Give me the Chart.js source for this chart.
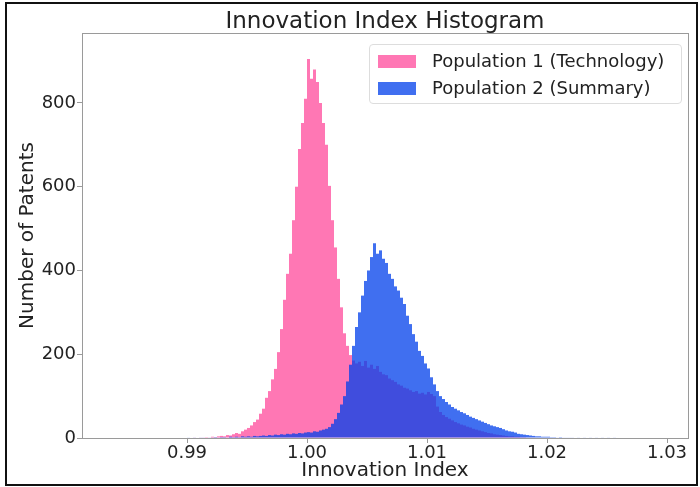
<!DOCTYPE html>
<html>
<head>
<meta charset="utf-8">
<script src="https://cdn.jsdelivr.net/npm/chart.js@4.4.1/dist/chart.umd.min.js"></script>
<style>
  body { margin: 0; background: #fff; font-family: "DejaVu Sans", sans-serif; }
  #wrap { position: relative; width: 700px; height: 487px; }
  #frame { position: absolute; left: 5px; top: 2px; width: 689px; height: 480px; border: 2px solid #111; pointer-events: none; }
  #legend { position: absolute; left: 369px; top: 44px; width: 311px; height: 58px; border: 1px solid #ddd; border-radius: 4px; background: rgba(255,255,255,0.85); }
  .row { position: absolute; left: 8px; height: 22px; white-space: nowrap; }
  .sw { position: absolute; left: 0; top: 4px; width: 38px; height: 13px; }
  .lbl { position: absolute; left: 54px; top: -1px; font-size: 18px; color: #222; line-height: 22px; }
</style>
</head>
<body>
<div id="wrap">
  <canvas id="histChart" width="700" height="487"></canvas>
  <div id="legend"></div>
  <div id="frame"></div>
</div>
<script>
// histogram bins: left edge of first bin and bin width
const binStart = 0.990;
const binWidth = 0.00025;

// Population 1 (Technology) counts per bin
const pop1Counts = [
  0, 0, 1, 0, 1, 1, 2, 1, 3, 2, 4, 5, 4, 7, 6, 9, 12, 10, 16, 20,
  24, 30, 38, 44, 58, 70, 96, 112, 140, 165, 205, 260, 330, 392, 440, 520, 600, 690, 752, 810,
  905, 858, 880, 850, 800, 752, 700, 602, 520, 455, 380, 312, 250, 220, 198, 185, 178, 182, 172, 184,
  168, 175, 165, 172, 158, 152, 150, 142, 138, 134, 128, 125, 120, 118, 114, 110, 112, 106, 108, 104,
  110, 105, 100, 75, 62, 55, 50, 46, 42, 38, 35, 32, 30, 27, 25, 22, 20, 18, 16, 14,
  12, 11, 9, 8, 7, 6, 5, 4, 4, 3, 3, 2, 2, 1, 1, 1, 0
];

// Population 2 (Summary) counts per bin
const pop2Counts = [
  1, 0, 1, 0, 1, 1, 0, 1, 1, 2, 1, 2, 2, 1, 3, 2, 3, 2, 4, 3,
  4, 3, 5, 4, 5, 6, 5, 7, 6, 8, 7, 9, 8, 10, 9, 11, 10, 12, 11, 13,
  14, 13, 16, 15, 18, 20, 22, 26, 34, 45, 60, 80, 100, 135, 175, 220, 265, 300, 340, 375,
  400, 432, 465, 440, 448, 428, 418, 392, 380, 362, 352, 335, 320, 292, 272, 248, 230, 208, 196, 178,
  166, 145, 128, 112, 100, 93, 86, 80, 74, 70, 66, 62, 59, 55, 51, 48, 45, 42, 39, 36,
  33, 30, 28, 26, 24, 21, 18, 16, 15, 13, 10, 9, 8, 7, 6, 5, 4, 4, 3, 3,
  3, 2, 2, 1, 2, 1, 1, 1, 1, 0, 1, 0, 1, 0, 1, 0, 1, 0, 1, 0,
  1, 0, 1
];

const seriesLabels = ['Population 1 (Technology)', 'Population 2 (Summary)'];
const xTicks = [0.99, 1.00, 1.01, 1.02, 1.03];
const yTicks = [0, 200, 400, 600, 800];

const toPoints = counts => counts.map((c, i) => ({ x: binStart + binWidth * (i + 0.5), y: c }));

const axisColor = '#9a9a9a';
const textColor = '#222';

// draws the top and right spines of the axes box
const boxPlugin = {
  id: 'boxPlugin',
  afterDatasetsDraw(chart) {
    const { ctx, chartArea: a } = chart;
    ctx.save();
    ctx.strokeStyle = axisColor;
    ctx.lineWidth = 1;
    ctx.strokeRect(Math.round(a.left) + 0.5, Math.round(a.top) + 0.5, Math.round(a.right - a.left), Math.round(a.bottom - a.top));
    ctx.restore();
  }
};

const chart = new Chart(document.getElementById('histChart').getContext('2d'), {
  type: 'bar',
  data: {
    datasets: [
      {
        label: seriesLabels[0],
        data: toPoints(pop1Counts),
        backgroundColor: 'rgb(255, 119, 180)',
        order: 2
      },
      {
        label: seriesLabels[1],
        data: toPoints(pop2Counts),
        backgroundColor: 'rgba(0, 63, 235, 0.75)',
        order: 1
      }
    ]
  },
  options: {
    responsive: false,
    animation: false,
    layout: { padding: { left: 0, right: 12, top: 0, bottom: 0 } },
    datasets: {
      bar: {
        grouped: false,
        barPercentage: 1,
        categoryPercentage: 1,
        borderWidth: 0,
        inflateAmount: 0
      }
    },
    plugins: {
      legend: { display: false },
      tooltip: { enabled: false },
      title: {
        display: true,
        text: 'Innovation Index Histogram',
        fullSize: false,
        color: textColor,
        font: { family: 'DejaVu Sans', size: 23, weight: 'normal', lineHeight: 0.87 },
        padding: { top: 12, bottom: 1 }
      }
    },
    scales: {
      x: {
        type: 'linear',
        offset: false,
        min: 0.98125,
        max: 1.03175,
        afterBuildTicks: s => { s.ticks = xTicks.map(v => ({ value: v })); },
        afterFit: s => { s.height = 49; },
        grid: { display: true, offset: false, drawOnChartArea: false, drawTicks: true, tickLength: 5, color: axisColor },
        border: { display: true, color: axisColor },
        ticks: {
          color: textColor,
          font: { family: 'DejaVu Sans', size: 18 },
          padding: 0,
          maxRotation: 0,
          callback: v => v.toFixed(2)
        },
        title: {
          display: true,
          text: 'Innovation Index',
          color: textColor,
          font: { family: 'DejaVu Sans', size: 20 },
          padding: { top: 0, bottom: 4 }
        }
      },
      y: {
        min: 0,
        max: 967,
        afterBuildTicks: s => { s.ticks = yTicks.map(v => ({ value: v })); },
        afterFit: s => { s.width = 82; },
        grid: { display: true, drawOnChartArea: false, drawTicks: true, tickLength: 5, color: axisColor },
        border: { display: true, color: axisColor },
        ticks: {
          color: textColor,
          font: { family: 'DejaVu Sans', size: 18 },
          padding: 1
        },
        title: {
          display: true,
          text: 'Number of Patents',
          color: textColor,
          font: { family: 'DejaVu Sans', size: 20 },
          padding: { top: 16, bottom: 0 }
        }
      }
    }
  },
  plugins: [boxPlugin]
});

// legend box built from the chart's own datasets
const legendEl = document.getElementById('legend');
chart.data.datasets.forEach((ds, i) => {
  const row = document.createElement('div');
  row.className = 'row';
  row.style.top = (6 + i * 27) + 'px';
  row.innerHTML = '<div class="sw" style="background:' + ds.backgroundColor + '"></div><div class="lbl">' + ds.label + '</div>';
  legendEl.appendChild(row);
});
</script>
</body>
</html>
